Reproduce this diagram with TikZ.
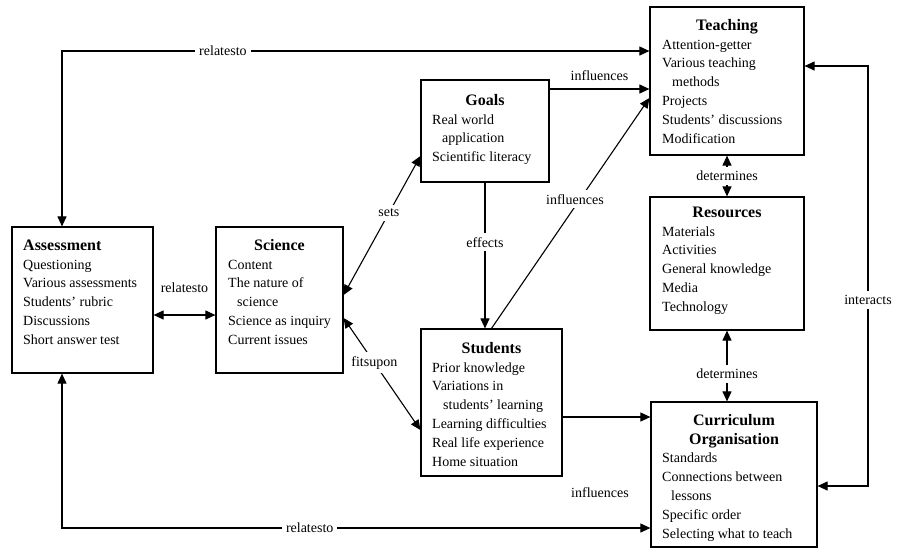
\documentclass[tikz,border=0pt]{standalone}
\usepackage{fontspec}
\setmainfont{Liberation Serif}
\usetikzlibrary{arrows.meta,calc}
\begin{document}
\begin{tikzpicture}[x=1pt,y=-1pt,
  >={Triangle[length=10pt,width=9pt]},
  box/.style={draw, line width=1.2pt, inner sep=0pt},
  head/.style={anchor=north, inner sep=0pt, align=center, font=\fontsize{16}{18.8}\selectfont\bfseries},
  headl/.style={anchor=north west, inner sep=0pt, align=left, font=\fontsize{16}{18.8}\selectfont\bfseries},
  items/.style={anchor=north west, inner sep=0pt, align=left, font=\fontsize{14}{18.8}\selectfont},
  lbl/.style={fill=white, inner sep=4pt, font=\fontsize{14}{16}\selectfont},
  conn/.style={line width=1.1pt}]
\useasboundingbox (0,0) rectangle (903,550);

% boxes
\node[box, minimum width=154pt, minimum height=148pt] (teach) at (727,81) {};
\node[box, minimum width=128pt, minimum height=102pt] (goals) at (485,131) {};
\node[box, minimum width=154pt, minimum height=133pt] (res) at (727,263.5) {};
\node[box, minimum width=141pt, minimum height=147pt] (stud) at (491.5,402.5) {};
\node[box, minimum width=166pt, minimum height=145pt] (curr) at (734,474.5) {};
\node[box, minimum width=141pt, minimum height=146pt] (assess) at (82.5,300) {};
\node[box, minimum width=127pt, minimum height=146pt] (sci) at (279.5,300) {};

% headings
\node[head] (teachH) at (727,16.84) {\strut Teaching};
\node[head] (goalsH) at (485,91.84) {\strut Goals};
\node[head] (resH) at (727,203.84) {\strut Resources};
\node[head] (studH) at (491.5,339.84) {\strut Students};
\node[head] (currH) at (734,411.84) {\strut Curriculum\\Organisation};
\node[headl] (assessH) at (23,236.84) {\strut Assessment};
\node[head] (sciH) at (279.5,236.84) {\strut Science};

% contents
\node[items] (teachT) at (662,35.64) {\strut Attention-getter\\Various teaching\\\hspace*{10pt}methods\\Projects\\Students’ discussions\\Modification};
\node[items] (goalsT) at (432,110.64) {\strut Real world\\\hspace*{10pt}application\\Scientific literacy};
\node[items] (resT) at (662,222.64) {\strut Materials\\Activities\\General knowledge\\Media\\Technology};
\node[items] (studT) at (432,358.64) {\strut Prior knowledge\\Variations in\\\hspace*{11pt}students’ learning\\Learning difficulties\\Real life experience\\Home situation};
\node[items] (currT) at (662,449.44) {\strut Standards\\Connections between\\\hspace*{9pt}lessons\\Specific order\\Selecting what to teach};
\node[items] (assessT) at (23,255.64) {\strut Questioning\\Various assessments\\Students’ rubric\\Discussions\\Short answer test};
\node[items] (sciT) at (228,255.64) {\strut Content\\The nature of\\\hspace*{9pt}science\\Science as inquiry\\Current issues};

% bend points
\coordinate (tl) at (62,51);
\coordinate (bl) at (62,528);
\coordinate (tr) at (868,66);
\coordinate (br) at (868,486);

% connectors
\draw[conn,<->] (tl |- assess.north) -- (tl) -- node[lbl,pos=0.274] {relatesto} (tl -| teach.west);
\draw[conn,<->] (bl |- assess.south) -- (bl) -- node[lbl,pos=0.421] {relatesto} (bl -| curr.west);
\draw[conn,<->] ([yshift=-15pt]assess.east) -- node[lbl,fill=none,yshift=27pt] {relatesto} ([yshift=-15pt]sci.west);
\draw[conn,<->] ([yshift=5pt]sci.east) -- node[lbl,pos=0.59] {sets} ([yshift=-25pt]goals.west);
\draw[conn,<->] ([yshift=-18pt]sci.east) -- node[lbl,pos=0.4] {fitsupon} ([yshift=-27.5pt]stud.west);
\draw[conn,->] (goals.south) -- node[lbl,pos=0.41] {effects} (goals.south |- stud.north);
\draw[conn,->] (stud.north) -- node[lbl,pos=0.56,xshift=-5pt] {influences} ([yshift=-17pt]teach.west);
\draw[conn,->] ([yshift=42pt]goals.east) -- node[lbl,fill=none,yshift=13pt] {influences} ([yshift=42pt]goals.east -| teach.west);
\draw[conn,<->] (teach.south) -- node[lbl] {determines} (res.north);
\draw[conn,<->] (res.south) -- node[lbl,pos=0.61] {determines} (res.south |- curr.north);
\draw[conn,->] ([yshift=-14.5pt]stud.east) -- ([yshift=-14.5pt]stud.east -| curr.west);
\node[lbl,fill=none] (inf3) at (600,493) {influences};
\draw[conn,<->] ([yshift=15pt]teach.east) -- (tr) -- node[lbl,pos=0.557] {interacts} (br) -- ([yshift=-11.5pt]curr.east);
\end{tikzpicture}
\end{document}
